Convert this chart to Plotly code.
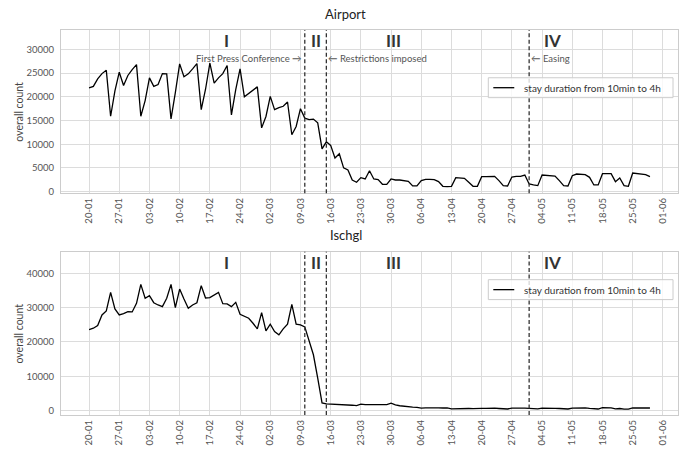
import pandas as pd
import plotly.graph_objects as go

start_date = "2020-01-20"
airport = [21900, 22200, 23800, 24900, 25600, 15900, 21250, 25200, 22400, 24500, 25750, 26800, 15900, 19200,
           24000, 22200, 22600, 24900, 24850, 15350, 20900, 26950, 24250, 24850, 25900, 27000, 17300, 21600,
           27100, 22900, 24000, 24900, 26600, 16200, 21500, 25900, 20000, 20700, 21400, 22100, 13450, 15850,
           20100, 17300, 17700, 18000, 18900, 12000, 13750, 17500, 15500, 15200, 15300, 14500, 9000, 10500,
           9750, 7100, 8000, 5000, 4550,
           2450, 1960, 2940, 2660, 4400, 2660, 2520, 1540, 1540, 2660, 2450, 2450, 2240, 2170, 1190, 1190,
           2310, 2590, 2590, 2520, 2100, 1120, 1050, 1120, 2940, 2940, 2800, 1960, 1120, 1120, 3150, 3150,
           3150, 3220, 2310, 1260, 1190, 3080, 3220, 3220, 3500, 1610, 1400, 1260, 3500, 3430, 3360, 3290,
           2310, 1260, 1190, 3360, 3710, 3640, 3570, 3010, 1400, 1400, 3780, 3780, 3780, 2100, 2870, 1260,
           1120, 3920, 3780, 3780, 3570, 3150]
ischgl = [23630, 24020, 24800, 27890, 29055, 34480, 29640, 27890, 28280, 28860, 28770, 31280, 36800, 32740,
          33510, 31460, 30800, 30320, 32740, 36800, 30025, 35450, 32550, 29830, 30800, 31460, 36420, 32840,
          32930, 33700, 34480, 31190, 31090, 30320, 31550, 28090, 27600, 26925, 25470, 23825, 28570, 23245,
          25180, 23050, 22080, 23825, 25180, 30990, 25180, 24990, 24400, 20630, 16270, 9490, 2230, 1940, 1900,
          1850, 1800, 1800, 1750, 1550, 1450, 1850, 1750, 1750, 1750, 1750, 1700, 1750, 2150, 1650, 1400,
          1200, 1100, 1000, 900, 700, 800, 850, 800, 800, 750, 750, 500, 550, 700, 650, 600, 550, 500, 650,
          650, 750, 700, 600, 450, 450, 700, 750, 700, 700, 650, 550, 500, 700, 750, 700, 650, 600, 500, 450,
          700, 750, 750, 800, 650, 450, 450, 850, 850, 800, 500, 600, 400, 400, 750, 750, 750, 750, 750]
series_name = "stay duration from 10min to 4h"
titles = ["Airport", "Ischgl"]
y_title = "overall count"
events = ["2020-03-10", "2020-03-15", "2020-05-01"]
event_labels = ["First Press Conference \u2192", "\u2190 Restrictions imposed", "\u2190 Easing"]
phases = ["I", "II", "III", "IV"]
phase_x = ["2020-02-20 19:00", "2020-03-12 17:00", "2020-03-30 12:00", "2020-05-06 10:00"]

dates_a = pd.date_range(start_date, periods=len(airport), freq="D")
dates_i = pd.date_range(start_date, periods=len(ischgl), freq="D")

FONT = "Lato, 'DejaVu Sans', sans-serif"
GRID = "#dcdcdc"
EDGE = "#cccccc"
TICK = "#555555"

# paper-coordinate helpers (plot area spans px x 61..679, y 30..417)
def px_x(p):
    return (p - 61) / 618.0

def px_y(p):
    return (417 - p) / 387.0

fig = go.Figure()
fig.add_trace(go.Scatter(x=dates_a, y=airport, mode="lines", name=series_name,
                         line=dict(color="black", width=1.3), xaxis="x", yaxis="y", showlegend=False))
fig.add_trace(go.Scatter(x=dates_i, y=ischgl, mode="lines", name=series_name,
                         line=dict(color="black", width=1.3), xaxis="x2", yaxis="y2", showlegend=False))

xr = ["2020-01-13 12:00", "2020-06-04 12:00"]
xcommon = dict(type="date", range=xr, tick0="2020-01-20", dtick=7 * 86400000, tickformat="%d-%m",
               tickangle=-90, showgrid=True, gridcolor=GRID, gridwidth=1, showline=True, linecolor=EDGE,
               linewidth=1.2, mirror=True, ticks="", tickfont=dict(size=9.5, color=TICK, family=FONT),
               zeroline=False)
ycommon = dict(showgrid=True, gridcolor=GRID, gridwidth=1, showline=True, linecolor=EDGE, linewidth=1.2,
               mirror=True, ticks="", tickformat="d", zeroline=False, ticklabelstandoff=4,
               tickfont=dict(size=9.5, color=TICK, family=FONT))

fig.update_layout(
    width=688, height=454,
    margin=dict(l=61, r=9, t=30, b=37),
    plot_bgcolor="white", paper_bgcolor="white",
    font=dict(family=FONT),
    xaxis=dict(domain=[0, 1], anchor="y", **xcommon),
    yaxis=dict(domain=[0.5762, 1], anchor="x", range=[-330, 34100], dtick=5000, **ycommon),
    xaxis2=dict(domain=[0, 1], anchor="y2", **xcommon),
    yaxis2=dict(domain=[0, 0.4238], anchor="x2", range=[-1300, 46300], dtick=10000, **ycommon),
    showlegend=False,
)

for xa, ya in [("x", "y"), ("x2", "y2")]:
    for ev in events:
        fig.add_shape(type="line", xref=xa, yref=ya + " domain", x0=ev, x1=ev, y0=0, y1=1,
                      line=dict(color="#333333", width=1.3, dash="4px,2.5px"))
    for ph, px in zip(phases, phase_x):
        fig.add_annotation(xref=xa, yref=ya + " domain", x=px, y=0.933, text="<b>%s</b>" % ph,
                           showarrow=False, font=dict(size=17, color="#333", family=FONT),
                           xanchor="center", yanchor="middle")
    # y-axis title
    fig.add_annotation(xref="paper", yref=ya + " domain", x=px_x(19), y=0.5, text=y_title, textangle=-90,
                       showarrow=False, xanchor="center", yanchor="middle",
                       font=dict(size=10.5, color="#444", family=FONT))

# event labels on top chart
fig.add_annotation(xref="x", yref="y domain", x=events[0], y=0.823, text=event_labels[0], showarrow=False,
                   xanchor="right", yanchor="middle", xshift=-1, font=dict(size=9.5, color="#555", family=FONT))
fig.add_annotation(xref="x", yref="y domain", x=events[1], y=0.823, text=event_labels[1], showarrow=False,
                   xanchor="left", yanchor="middle", xshift=0, font=dict(size=9.5, color="#555", family=FONT))
fig.add_annotation(xref="x", yref="y domain", x=events[2], y=0.823, text=event_labels[2], showarrow=False,
                   xanchor="left", yanchor="middle", xshift=0, font=dict(size=9.5, color="#555", family=FONT))

# legends (one per panel), drawn as framed boxes
for top in (78, 281):
    fig.add_shape(type="rect", xref="paper", yref="paper", x0=px_x(489), x1=px_x(674),
                  y0=px_y(top + 20), y1=px_y(top), layer="above",
                  fillcolor="rgba(255,255,255,0.8)", line=dict(color="#cccccc", width=1))
    fig.add_shape(type="line", xref="paper", yref="paper", x0=px_x(494), x1=px_x(515),
                  y0=px_y(top + 10), y1=px_y(top + 10), layer="above", line=dict(color="black", width=1.3))
    fig.add_annotation(xref="paper", yref="paper", x=px_x(523), y=px_y(top + 10), text=series_name,
                       showarrow=False, xanchor="left", yanchor="middle",
                       font=dict(size=10, color="#333", family=FONT))

# titles
fig.add_annotation(xref="paper", yref="paper", x=px_x(346), y=px_y(14), text=titles[0],
                   showarrow=False, xanchor="center", yanchor="middle", font=dict(size=13, color="#222", family=FONT))
fig.add_annotation(xref="paper", yref="paper", x=px_x(346), y=px_y(236), text=titles[1],
                   showarrow=False, xanchor="center", yanchor="middle", font=dict(size=13, color="#222", family=FONT))

fig.write_html("out.html")
